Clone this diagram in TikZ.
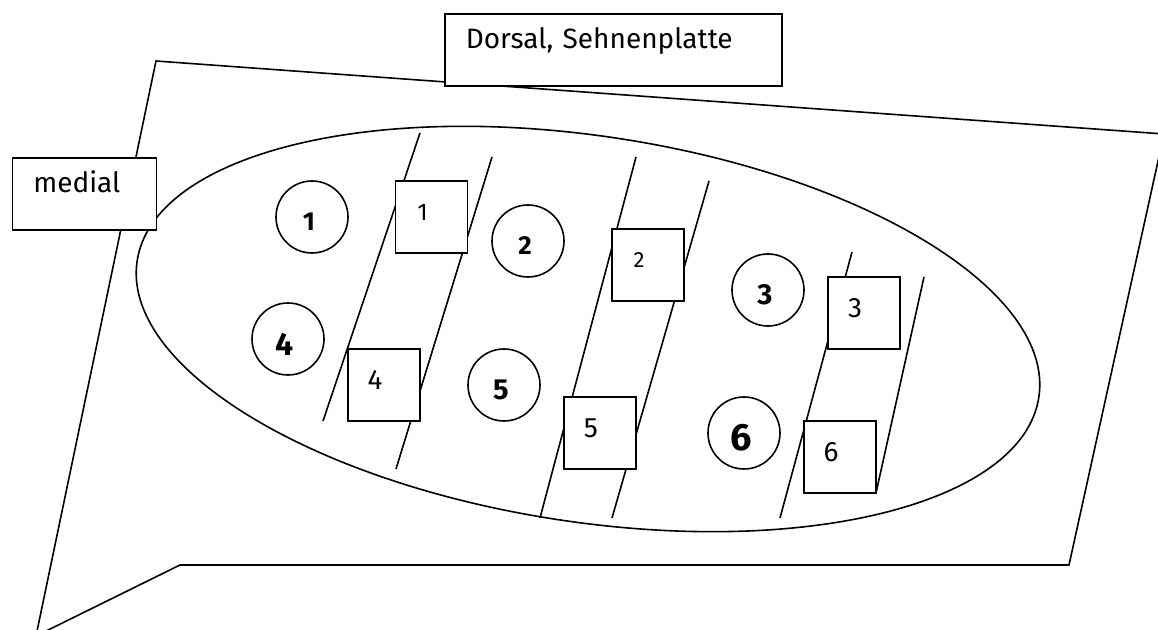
\documentclass[tikz,border=0pt]{standalone}
\usepackage{fontspec}
\setmainfont{Fira Sans}
\newcommand{\numsz}[2]{{\fontsize{#1}{#1}\selectfont #2}}

\begin{document}
\begin{tikzpicture}[
  x=0.5pt, y=-0.5pt,
  line width=0.8pt,
  box/.style={draw, fill=white, anchor=north west, align=left, inner xsep=10.5pt,
    inner ysep=7pt, text height=10.5pt, text depth=11.5pt, font=\fontsize{14}{17}\selectfont},
  circ/.style={draw, circle, minimum size=36pt, inner sep=0pt, label={[cnum]center:#1}},
  cnum/.style={xshift=-1.5pt, yshift=-2.5pt, font=\bfseries},
  sq/.style={draw, fill=white, minimum size=36pt, inner sep=0pt, label={[snum]center:#1}},
  snum/.style={xshift=-4.5pt, yshift=2.5pt}
]
\useasboundingbox (0,0) rectangle (1158,630);

% sheet and oval
\draw (156,61) -- (1164,134) -- (1069,565) -- (180,565) -- (36,636) -- cycle;
\draw[rotate around={-8.6:(588,329)}] (588,329) ellipse [x radius=456, y radius=193];

% slanted strokes
\draw (420,133) -- (323,421);
\draw (492,157) -- (396,469);
\draw (636,157) -- (540,518);
\draw (709,181) -- (612,518);
\draw (852,252) -- (780,518);
\draw (924,277) -- (876,493);

% labels
\node[box, text width=147.5pt] (dorsal) at (444,13) {Dorsal, Sehnenplatte};
\node[box, text width=51pt] (medial) at (11.5,157) {medial};

% circles
\node[circ={\numsz{13}{1}}] (c1) at (312,217) {};
\node[circ={\numsz{13}{2}}] (c2) at (528,241) {};
\node[circ={\numsz{14.5}{3}}] (c3) at (768,290) {};
\node[circ={\numsz{16}{4}}] (c4) at (288,339) {};
\node[circ={\numsz{14.5}{5}}] (c5) at (504,385) {};
\node[circ={\numsz{19}{6}}] (c6) at (744,433) {};

% squares
\node[sq={\numsz{12}{1}}] (s1) at (431.5,217) {};
\node[sq={\numsz{11}{2}}] (s2) at (648,265) {};
\node[sq={\numsz{14}{3}}] (s3) at (864,313) {};
\node[sq={\numsz{14}{4}}] (s4) at (384,385) {};
\node[sq={\numsz{14}{5}}] (s5) at (600,433) {};
\node[sq={\numsz{14}{6}}] (s6) at (840,457) {};
\end{tikzpicture}
\end{document}
